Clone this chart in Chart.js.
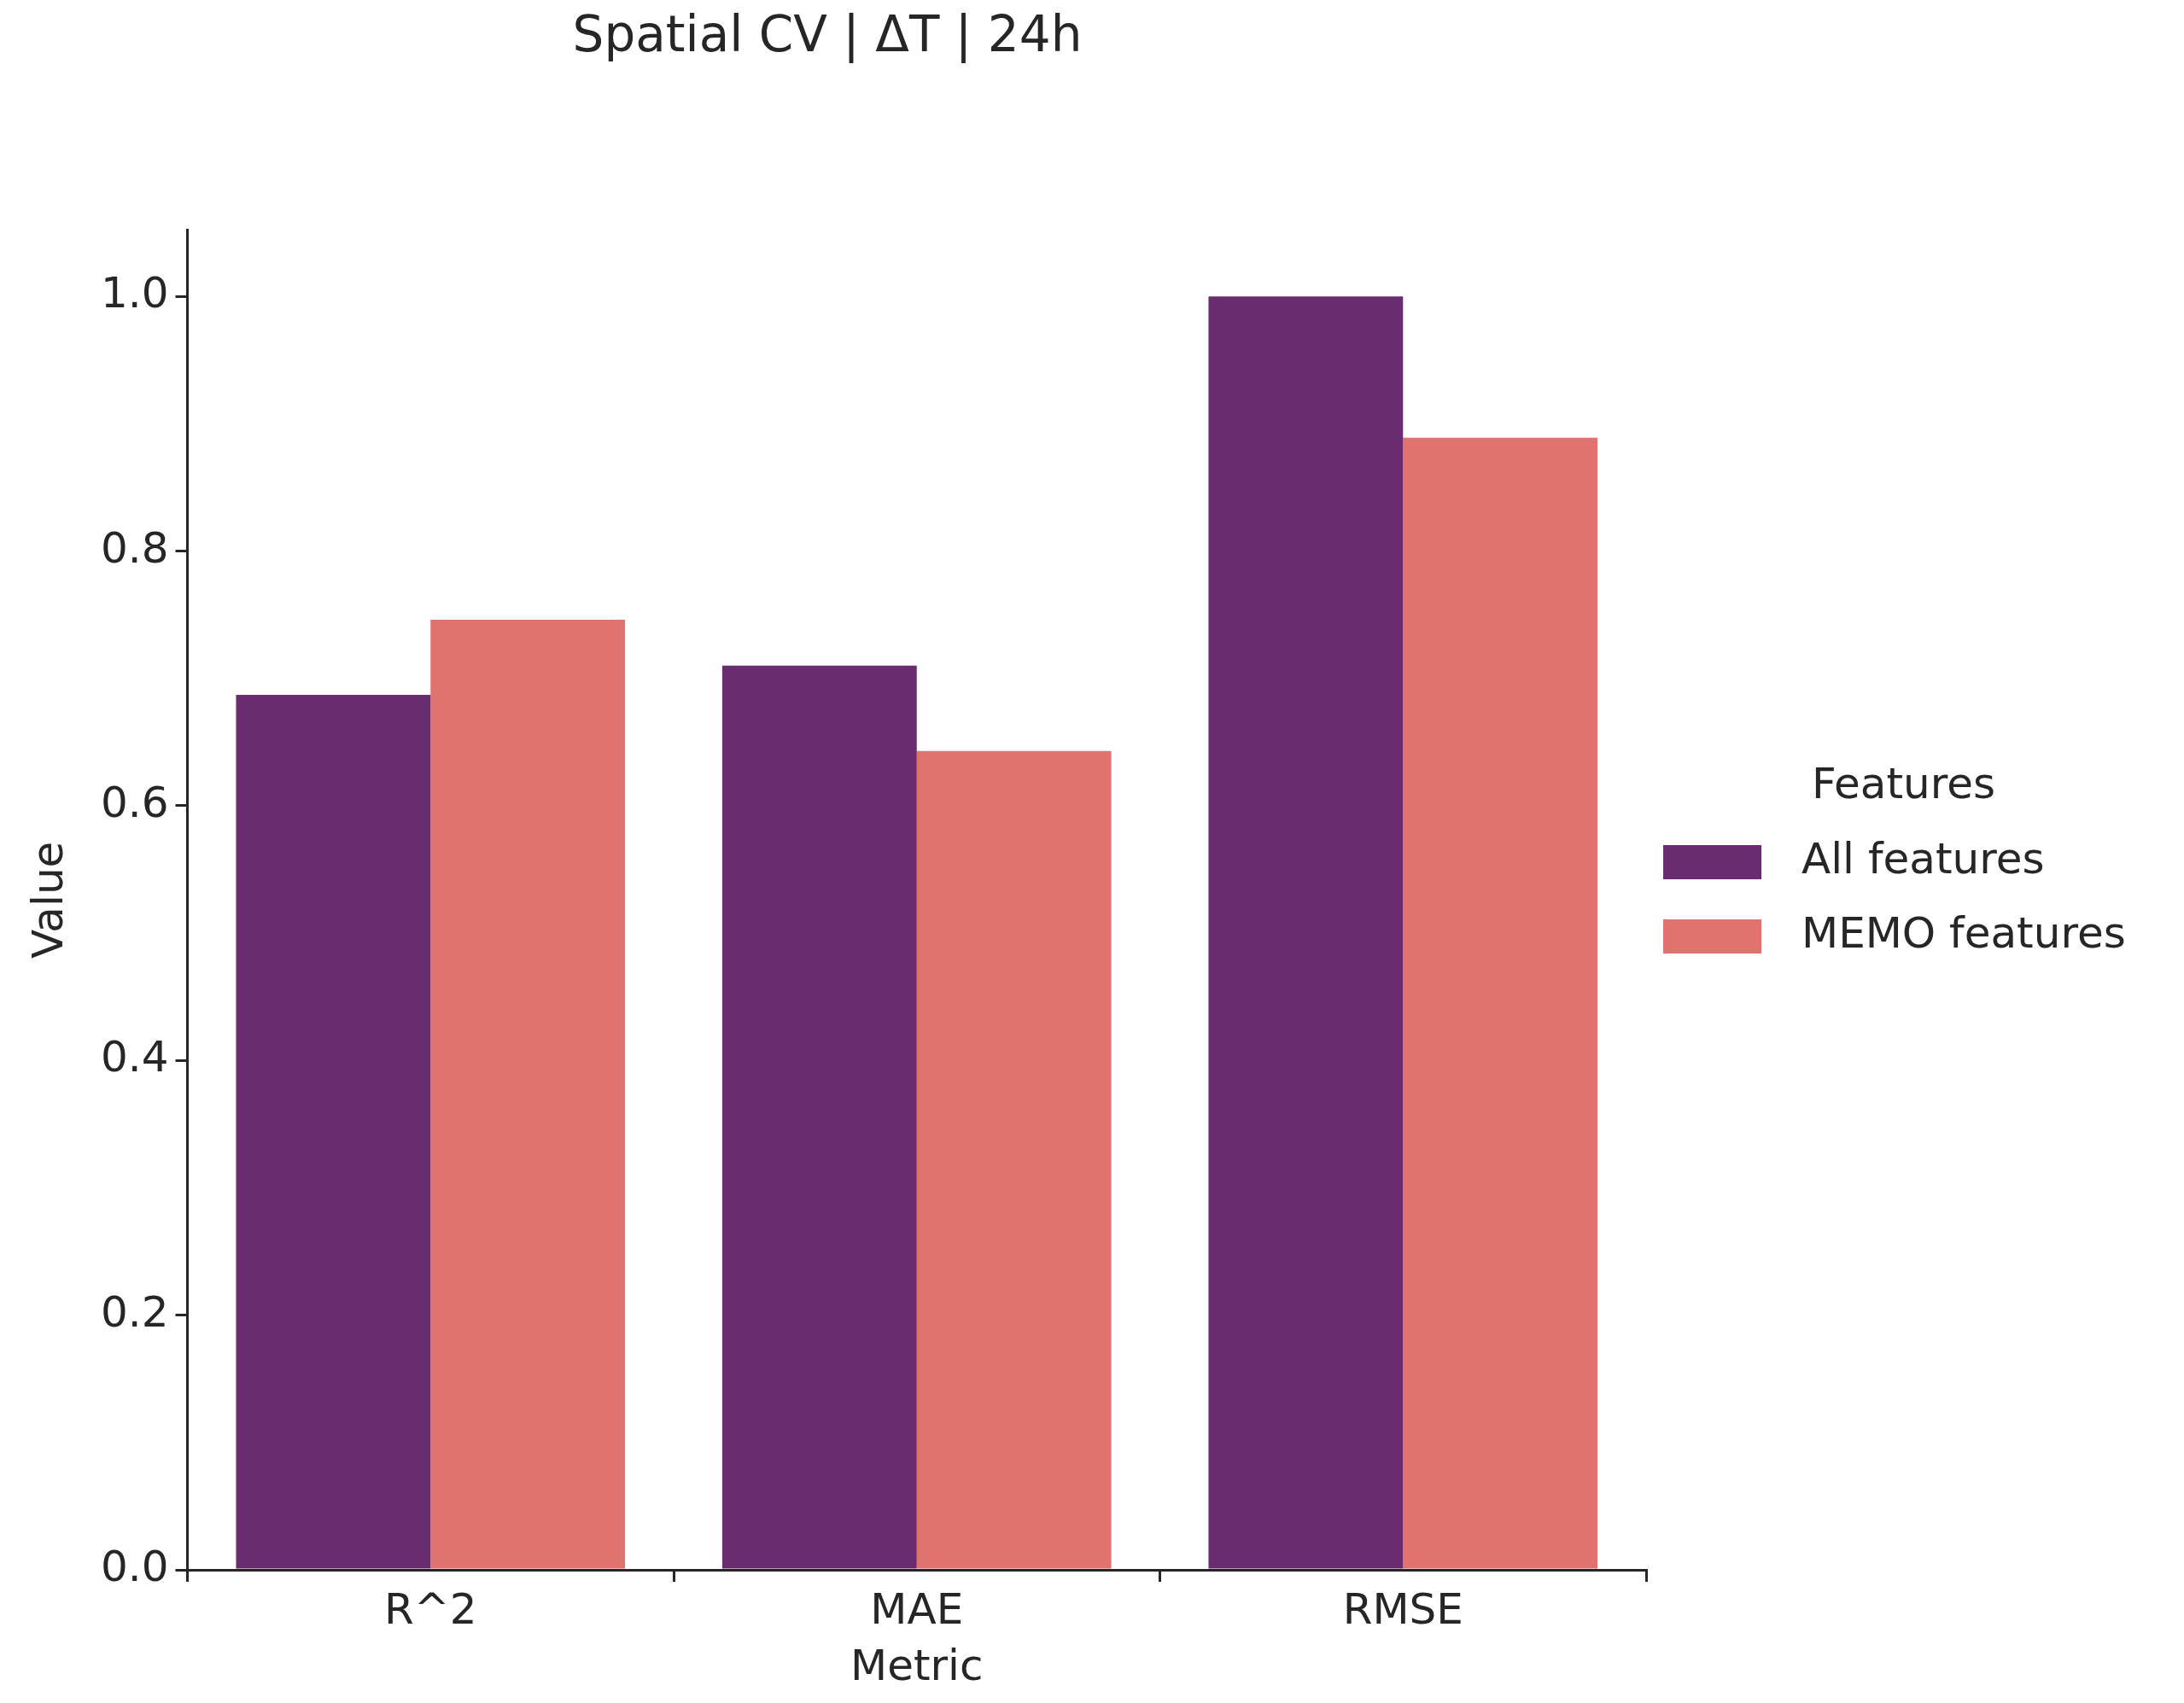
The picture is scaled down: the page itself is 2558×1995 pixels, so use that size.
<!DOCTYPE html>
<html><head><meta charset="utf-8">
<script src="https://cdn.jsdelivr.net/npm/chart.js@4"></script>
<style>body{margin:0;background:#fff}</style></head>
<body><canvas id="c" width="2558" height="1995"></canvas>
<script>
const categories = ["R^2", "MAE", "RMSE"];
const allFeatures = [0.687, 0.710, 1.000];
const memoFeatures = [0.746, 0.643, 0.889];
const yTicks = [0, 0.2, 0.4, 0.6, 0.8, 1.0];
const seriesNames = ["All features", "MEMO features"];
const colors = ["#6a2c70", "#e07270"];
const FONT = "'DejaVu Sans', sans-serif";

const legendPlugin = {
  id: 'customLegend',
  afterDraw(chart) {
    const ctx = chart.ctx;
    ctx.save();
    ctx.fillStyle = '#262626';
    ctx.font = `50px ${FONT}`;
    ctx.textBaseline = 'middle';
    ctx.textAlign = 'left';
    ctx.fillText('Features', 2122, 922);
    chart.data.datasets.forEach((ds, i) => {
      const y = 1010 + i * 87;
      ctx.fillStyle = ds.backgroundColor;
      ctx.fillRect(1948, y - 20, 115, 40);
      ctx.fillStyle = '#262626';
      ctx.fillText(ds.label, 2110, y);
    });
    ctx.restore();
  }
};

new Chart(document.getElementById('c'), {
  type: 'bar',
  data: {
    labels: categories,
    datasets: [
      { label: seriesNames[0], data: allFeatures, backgroundColor: colors[0] },
      { label: seriesNames[1], data: memoFeatures, backgroundColor: colors[1] }
    ]
  },
  options: {
    responsive: false, animation: false, devicePixelRatio: 1,
    layout: { padding: { left: 10, right: 630, top: 0, bottom: 10 } },
    plugins: {
      legend: { display: false },
      tooltip: { enabled: false },
      title: { display: true, text: 'Spatial CV | ΔT | 24h', color: '#262626',
        font: { family: FONT, size: 58, weight: 'normal' }, padding: { top: 10, bottom: 190 } }
    },
    datasets: { bar: { categoryPercentage: 0.8, barPercentage: 1.0 } },
    scales: {
      x: {
        grid: { display: true, drawOnChartArea: false, tickLength: 14, color: '#262626', lineWidth: 3 },
        border: { color: '#262626', width: 3 },
        ticks: { color: '#262626', font: { family: FONT, size: 50 }, padding: 6 },
        title: { display: true, text: 'Metric', color: '#262626', font: { family: FONT, size: 50 }, padding: 0 }
      },
      y: {
        min: 0, max: 1.052,
        afterBuildTicks: (s) => { s.ticks = yTicks.map(v => ({ value: v })); },
        grid: { display: true, drawOnChartArea: false, tickLength: 14, color: '#262626', lineWidth: 3 },
        border: { color: '#262626', width: 3 },
        ticks: { color: '#262626', font: { family: FONT, size: 50 }, padding: 8,
          callback: (v) => Number(v).toFixed(1) },
        title: { display: true, text: 'Value', color: '#262626', font: { family: FONT, size: 50 }, padding: 20 }
      }
    }
  },
  plugins: [legendPlugin]
});
</script></body></html>
